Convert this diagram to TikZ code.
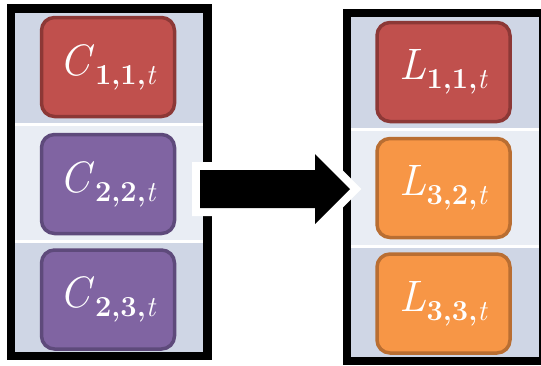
\documentclass[tikz,border=0pt]{standalone}
\newcommand{\cellLabel}[2]{\textit{#1}\kern0.5pt\raisebox{-9pt}{\fontsize{29}{32}\selectfont\textbf{#2}\textit{t}}}
\begin{document}
\begin{tikzpicture}[x=1pt,y=-1pt,
  bandDark/.style={fill=bandA},
  bandLight/.style={fill=bandB},
  sep/.style={draw=white,line width=3pt},
  frame/.style={draw=black,line width=8.5pt,line join=miter},
  cell/.style={rounded corners=13pt,line width=3.5pt,minimum width=133pt,minimum height=99pt,
    inner sep=0pt,text=white,font=\fontsize{44}{50}\selectfont},
  redcell/.style={cell,fill=cellRed,draw=cellRedEdge},
  purplecell/.style={cell,fill=cellPurple,draw=cellPurpleEdge},
  orangecell/.style={cell,fill=cellOrange,draw=cellOrangeEdge}]
\definecolor{bandA}{HTML}{CFD6E5}
\definecolor{bandB}{HTML}{E9EDF4}
\definecolor{cellRed}{HTML}{C0504D}
\definecolor{cellRedEdge}{HTML}{8C3836}
\definecolor{cellPurple}{HTML}{8064A2}
\definecolor{cellPurpleEdge}{HTML}{5E4A7B}
\definecolor{cellOrange}{HTML}{F79646}
\definecolor{cellOrangeEdge}{HTML}{B96E32}
\useasboundingbox (0,0) rectangle (541,365);
\clip (0,0) rectangle (541,365);

% left column: bands
\fill[bandDark]  (15,13)  rectangle (203,124);
\fill[bandLight] (15,124) rectangle (203,241);
\fill[bandDark]  (15,241) rectangle (203,352);
\draw[sep] (15,124.5) -- (203,124.5);
\draw[sep] (15,241) -- (203,241);
\draw[frame] (11,8.5) rectangle (207.5,356);

% right column: bands
\fill[bandDark]  (351,17)  rectangle (539,129);
\fill[bandLight] (351,129) rectangle (539,246);
\fill[bandDark]  (351,246) rectangle (539,357);
\draw[sep] (351,129.5) -- (539,129.5);
\draw[sep] (351,246) -- (539,246);
\draw[frame] (347,13) rectangle (543.5,361);

% left cells
\node[redcell]    (c11) at (108,67)    {\cellLabel{C}{1,1,}};
\node[purplecell] (c22) at (108,184)   {\cellLabel{C}{2,2,}};
\node[purplecell] (c23) at (108,299.5) {\cellLabel{C}{2,3,}};

% right cells
\node[redcell]    (l11) at (443.5,72)    {\cellLabel{L}{1,1,}};
\node[orangecell] (l32) at (443.5,188)   {\cellLabel{L}{3,2,}};
\node[orangecell] (l33) at (443.5,303.5) {\cellLabel{L}{3,3,}};

% block arrow between the columns, with a white halo
\def\arrowpath{(200,170) -- (315,170) -- (315,154) -- (350,189) -- (315,224) -- (315,208) -- (200,208) -- cycle}
\draw[white,line width=16pt,line join=miter,miter limit=4] \arrowpath;
\fill[black] \arrowpath;
\end{tikzpicture}
\end{document}
